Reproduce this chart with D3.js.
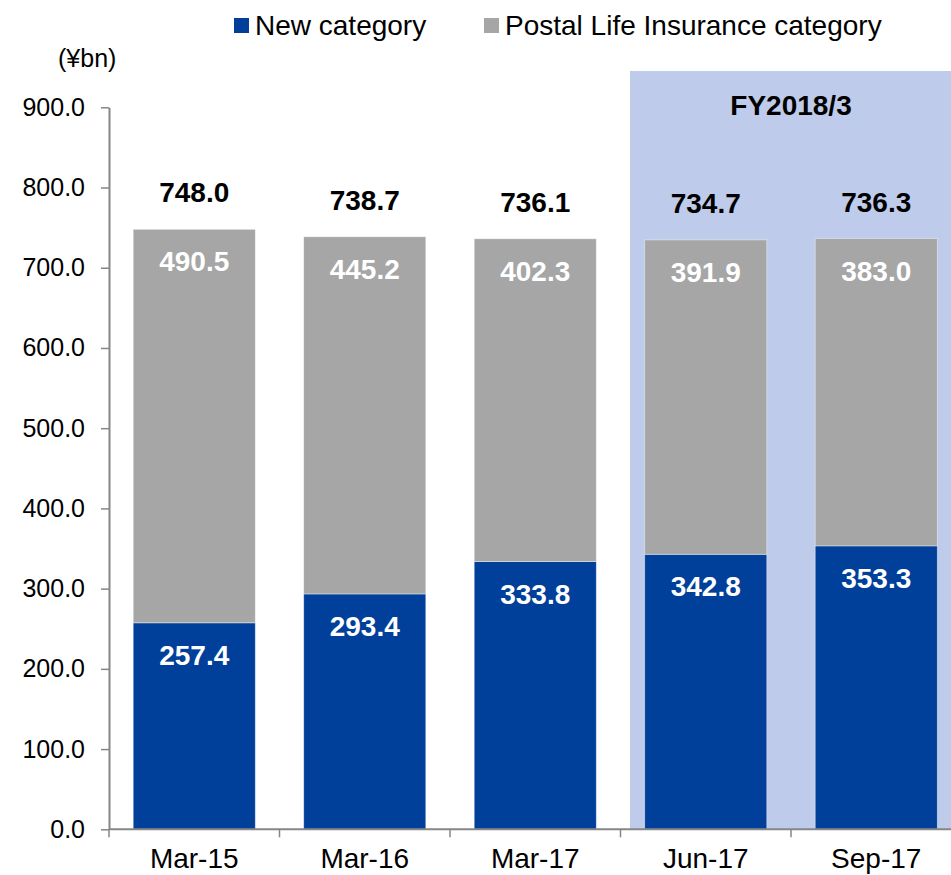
<!DOCTYPE html>
<html>
<head>
<meta charset="utf-8">
<script src="https://cdnjs.cloudflare.com/ajax/libs/d3/7.8.5/d3.min.js"></script>
<style>
  body { margin: 0; background: #fff; }
  svg { display: block; font-family: "Liberation Sans", Arial, sans-serif; }
</style>
</head>
<body>
<div id="vis"></div>
<script>
// data
var categories = ['Mar-15', 'Mar-16', 'Mar-17', 'Jun-17', 'Sep-17'];
var newCategory = [257.4, 293.4, 333.8, 342.8, 353.3];
var postalCategory = [490.5, 445.2, 402.3, 391.9, 383.0];
var totals = [748.0, 738.7, 736.1, 734.7, 736.3];
var yTicks = [0, 100, 200, 300, 400, 500, 600, 700, 800, 900];
var seriesNames = ['New category', 'Postal Life Insurance category'];
var periodLabel = 'FY2018/3';
var highlighted = ['Jun-17', 'Sep-17'];

var width = 951;
var height = 875;

var blue = '#00409a';
var grey = '#a6a6a6';
var axisColor = '#868686';

var svg = d3.select('#vis')
  .append('svg')
  .attr('width', width)
  .attr('height', height);

var x = d3.scaleBand()
  .domain(categories)
  .range([109, 961.5])
  .padding(0);

var y = d3.scaleLinear()
  .domain([0, 900])
  .range([829.3, 107.3]);

var barW = x.bandwidth() * 0.716;
var barOff = (x.bandwidth() - barW) / 2;

// highlighted period background
var hlStart = x(highlighted[0]) + 9.5;
svg.append('rect')
  .attr('x', hlStart)
  .attr('y', 71)
  .attr('width', width - hlStart)
  .attr('height', y(0) - 71)
  .attr('fill', '#bfcbea');

svg.append('text')
  .attr('x', x(highlighted[1]))
  .attr('y', 115)
  .attr('text-anchor', 'middle')
  .attr('font-size', 28)
  .attr('font-weight', 'bold')
  .text(periodLabel);

// stacked bars
var rows = categories.map(function (c, i) {
  return { cat: c, a: newCategory[i], b: postalCategory[i], total: totals[i] };
});

var g = svg.selectAll('.bar')
  .data(rows)
  .enter().append('g')
  .attr('class', 'bar');

g.append('rect')
  .attr('x', function (d) { return x(d.cat) + barOff; })
  .attr('y', function (d) { return y(d.a); })
  .attr('width', barW)
  .attr('height', function (d) { return y(0) - y(d.a); })
  .attr('fill', blue)
  .attr('stroke', '#ffffff')
  .attr('stroke-opacity', 0.5)
  .attr('stroke-width', 0.8);

g.append('rect')
  .attr('x', function (d) { return x(d.cat) + barOff; })
  .attr('y', function (d) { return y(d.a + d.b); })
  .attr('width', barW)
  .attr('height', function (d) { return y(d.a) - y(d.a + d.b); })
  .attr('fill', grey)
  .attr('stroke', '#ffffff')
  .attr('stroke-opacity', 0.5)
  .attr('stroke-width', 0.8);

// labels inside segments
g.append('text')
  .attr('x', function (d) { return x(d.cat) + x.bandwidth() / 2; })
  .attr('y', function (d) { return y(d.a) + 42; })
  .attr('text-anchor', 'middle')
  .attr('font-size', 28)
  .attr('font-weight', 'bold')
  .attr('fill', '#fff')
  .text(function (d) { return d.a.toFixed(1); });

g.append('text')
  .attr('x', function (d) { return x(d.cat) + x.bandwidth() / 2; })
  .attr('y', function (d) { return y(d.a + d.b) + 42; })
  .attr('text-anchor', 'middle')
  .attr('font-size', 28)
  .attr('font-weight', 'bold')
  .attr('fill', '#fff')
  .text(function (d) { return d.b.toFixed(1); });

// totals above bars
g.append('text')
  .attr('x', function (d) { return x(d.cat) + x.bandwidth() / 2; })
  .attr('y', function (d) { return y(d.total) - 27; })
  .attr('text-anchor', 'middle')
  .attr('font-size', 28)
  .attr('font-weight', 'bold')
  .attr('fill', '#000')
  .text(function (d) { return d.total.toFixed(1); });

// y axis
var yAxis = svg.append('g')
  .attr('transform', 'translate(109,0)')
  .call(d3.axisLeft(y)
    .tickValues(yTicks)
    .tickFormat(d3.format('.1f'))
    .tickSize(8)
    .tickSizeOuter(0)
    .tickPadding(16));

yAxis.select('.domain').attr('stroke', axisColor).attr('stroke-width', 2);
yAxis.selectAll('.tick line').attr('stroke', axisColor).attr('stroke-width', 1.5);
yAxis.selectAll('.tick text')
  .attr('font-size', 25)
  .attr('fill', '#000')
  .attr('font-family', '"Liberation Sans", Arial, sans-serif');

// x axis
svg.append('line')
  .attr('x1', 109).attr('x2', width)
  .attr('y1', y(0)).attr('y2', y(0))
  .attr('stroke', axisColor)
  .attr('stroke-width', 2);

svg.selectAll('.xtick')
  .data(categories)
  .enter().append('line')
  .attr('class', 'xtick')
  .attr('x1', function (d) { return x(d); })
  .attr('x2', function (d) { return x(d); })
  .attr('y1', y(0))
  .attr('y2', y(0) + 8)
  .attr('stroke', axisColor)
  .attr('stroke-width', 1.5);

svg.selectAll('.xlabel')
  .data(categories)
  .enter().append('text')
  .attr('class', 'xlabel')
  .attr('x', function (d) { return x(d) + x.bandwidth() / 2; })
  .attr('y', 868)
  .attr('text-anchor', 'middle')
  .attr('font-size', 28)
  .attr('fill', '#000')
  .text(function (d) { return d; });

// unit
svg.append('text')
  .attr('x', 58)
  .attr('y', 67)
  .attr('font-size', 25)
  .text('(¥bn)');

// legend
var legendX = [234, 484];
var legendColors = [blue, grey];
var legend = svg.selectAll('.legend')
  .data(seriesNames)
  .enter().append('g')
  .attr('class', 'legend')
  .attr('transform', function (d, i) { return 'translate(' + legendX[i] + ',0)'; });

legend.append('rect')
  .attr('x', 0)
  .attr('y', 18)
  .attr('width', 15)
  .attr('height', 15)
  .attr('fill', function (d, i) { return legendColors[i]; });

legend.append('text')
  .attr('x', 21)
  .attr('y', 35)
  .attr('font-size', 28)
  .text(function (d) { return d; });
</script>
</body>
</html>
